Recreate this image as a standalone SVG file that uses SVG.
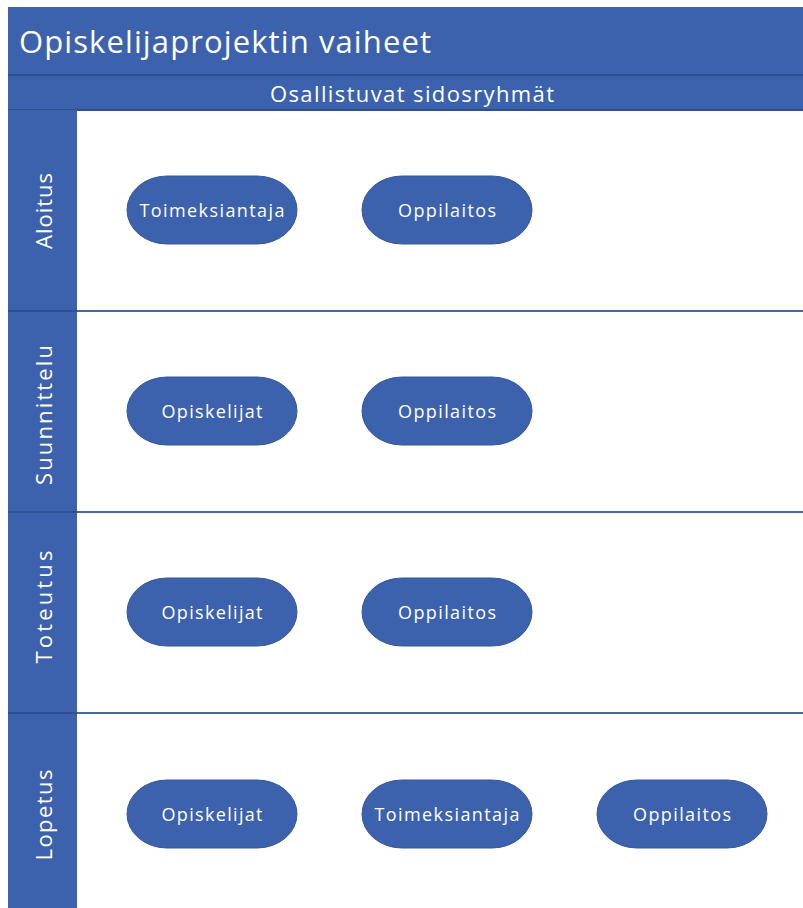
<svg xmlns="http://www.w3.org/2000/svg" width="803" height="908" viewBox="0 0 803 908">
<style>
.band{fill:#3d62ad;}
.sep{stroke:#2f5090;stroke-width:2;fill:none;}
.lsep{stroke:#4766a6;stroke-width:2;fill:none;}
.pill{fill:#3d62ad;stroke:#34569a;stroke-width:1;}
.t{font-family:"Open Sans","Liberation Sans",sans-serif;fill:#ffffff;}
.title{font-size:31px;}
.sub{font-size:22px;}
.lane{font-size:22px;}
.pt{font-size:18px;}
</style>
<rect width="803" height="908" fill="#ffffff"/>
<g id="header">
<rect class="band" x="8" y="7" width="795" height="103"/>
<line class="sep" x1="8" y1="75" x2="803" y2="75"/>
<line class="sep" x1="8" y1="110" x2="803" y2="110"/>
<text class="t title" x="19" y="53" textLength="412" lengthAdjust="spacing">Opiskelijaprojektin vaiheet</text>
<text class="t sub" x="412" y="102" text-anchor="middle" textLength="284" lengthAdjust="spacing">Osallistuvat sidosryhmät</text>
</g>
<g id="lanes">
<rect class="band" x="8" y="110" width="69" height="798"/>
<line class="sep" x1="8" y1="311" x2="77" y2="311"/>
<line class="sep" x1="8" y1="512" x2="77" y2="512"/>
<line class="sep" x1="8" y1="713" x2="77" y2="713"/>
<line class="lsep" x1="77" y1="311" x2="803" y2="311"/>
<line class="lsep" x1="77" y1="512" x2="803" y2="512"/>
<line class="lsep" x1="77" y1="713" x2="803" y2="713"/>
<text class="t lane" transform="translate(52 211) rotate(-90)" text-anchor="middle" textLength="76" lengthAdjust="spacing">Aloitus</text>
<text class="t lane" transform="translate(52 415) rotate(-90)" text-anchor="middle" textLength="140" lengthAdjust="spacing">Suunnittelu</text>
<text class="t lane" transform="translate(52 607) rotate(-90)" text-anchor="middle" textLength="113" lengthAdjust="spacing">Toteutus</text>
<text class="t lane" transform="translate(52 815) rotate(-90)" text-anchor="middle" textLength="91" lengthAdjust="spacing">Lopetus</text>
</g>
<g id="n1"><rect class="pill" x="127" y="176" width="170" height="68" rx="40" ry="34"/><text class="t pt" x="212" y="217" text-anchor="middle" textLength="145" lengthAdjust="spacing">Toimeksiantaja</text></g>
<g id="n2"><rect class="pill" x="362" y="176" width="170" height="68" rx="40" ry="34"/><text class="t pt" x="447" y="217" text-anchor="middle" textLength="98" lengthAdjust="spacing">Oppilaitos</text></g>
<g id="n3"><rect class="pill" x="127" y="377" width="170" height="68" rx="40" ry="34"/><text class="t pt" x="212" y="418" text-anchor="middle" textLength="101" lengthAdjust="spacing">Opiskelijat</text></g>
<g id="n4"><rect class="pill" x="362" y="377" width="170" height="68" rx="40" ry="34"/><text class="t pt" x="447" y="418" text-anchor="middle" textLength="98" lengthAdjust="spacing">Oppilaitos</text></g>
<g id="n5"><rect class="pill" x="127" y="578" width="170" height="68" rx="40" ry="34"/><text class="t pt" x="212" y="619" text-anchor="middle" textLength="101" lengthAdjust="spacing">Opiskelijat</text></g>
<g id="n6"><rect class="pill" x="362" y="578" width="170" height="68" rx="40" ry="34"/><text class="t pt" x="447" y="619" text-anchor="middle" textLength="98" lengthAdjust="spacing">Oppilaitos</text></g>
<g id="n7"><rect class="pill" x="127" y="780" width="170" height="68" rx="40" ry="34"/><text class="t pt" x="212" y="821" text-anchor="middle" textLength="101" lengthAdjust="spacing">Opiskelijat</text></g>
<g id="n8"><rect class="pill" x="362" y="780" width="170" height="68" rx="40" ry="34"/><text class="t pt" x="447" y="821" text-anchor="middle" textLength="145" lengthAdjust="spacing">Toimeksiantaja</text></g>
<g id="n9"><rect class="pill" x="597" y="780" width="170" height="68" rx="40" ry="34"/><text class="t pt" x="682" y="821" text-anchor="middle" textLength="98" lengthAdjust="spacing">Oppilaitos</text></g>
<g id="connectors"/>
</svg>
